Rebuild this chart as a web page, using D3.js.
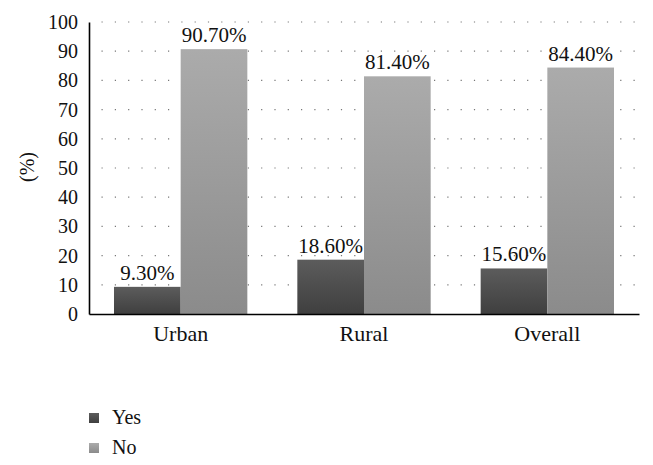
<!DOCTYPE html>
<html><head><meta charset="utf-8">
<script src="https://cdn.jsdelivr.net/npm/d3@7"></script>
<style>body{margin:0;background:#fff}svg{display:block}text{font-family:"Liberation Serif","Times New Roman",serif;fill:#111}</style>
</head><body><svg id="c" width="653" height="465"></svg>
<script>
const categories = ["Urban", "Rural", "Overall"];
const seriesNames = ["Yes", "No"];
const yesValues = [9.3, 18.6, 15.6];
const noValues = [90.7, 81.4, 84.4];
const yTicks = [0, 10, 20, 30, 40, 50, 60, 70, 80, 90, 100];
const yTitle = "(%)";

const svg = d3.select("#c");
const m = {l: 89, r: 639, t: 22, b: 314};
const x = d3.scaleBand().domain(categories).range([m.l, m.r]).paddingInner(0.2727).paddingOuter(0.13635);
const xs = d3.scaleBand().domain(seriesNames).range([0, x.bandwidth()]);
const y = d3.scaleLinear().domain([0, 100]).range([m.b, m.t]);

const defs = svg.append("defs");
function grad(id, c1, c2) {
  const g = defs.append("linearGradient").attr("id", id).attr("x1", 0).attr("y1", 0).attr("x2", 0).attr("y2", 1);
  g.append("stop").attr("offset", "0%").attr("stop-color", c1);
  g.append("stop").attr("offset", "100%").attr("stop-color", c2);
}
grad("gYes", "#5c5c5c", "#3f3f3f");
grad("gNo", "#ababab", "#8b8b8b");
const fills = {Yes: "url(#gYes)", No: "url(#gNo)"};

// gridlines
svg.append("g").selectAll("line").data(yTicks.filter(d => d > 0)).join("line")
  .attr("x1", m.l + 0.5).attr("x2", m.r)
  .attr("y1", d => y(d)).attr("y2", d => y(d))
  .attr("stroke", "#777").attr("stroke-width", 1.2)
  .attr("stroke-dasharray", "1.2,12.1").attr("stroke-dashoffset", -12);

const rows = categories.map((c, i) => ({cat: c, Yes: yesValues[i], No: noValues[i]}));
const g = svg.append("g");
rows.forEach(r => {
  seriesNames.forEach(s => {
    const bx = x(r.cat) + xs(s);
    g.append("rect").attr("x", bx).attr("y", y(r[s])).attr("width", xs.bandwidth())
      .attr("height", y(0) - y(r[s])).attr("fill", fills[s]);
    g.append("text").attr("x", bx + xs.bandwidth() / 2).attr("y", y(r[s]) - 7)
      .attr("text-anchor", "middle").attr("font-size", 21).text(r[s].toFixed(2) + "%");
  });
});

// y axis
const ya = svg.append("g").attr("transform", `translate(${m.l},0)`)
  .call(d3.axisLeft(y).tickValues(yTicks).tickSize(0).tickPadding(11));
ya.select(".domain").attr("stroke", "#000").attr("stroke-width", 1.6);
ya.selectAll("text").attr("font-size", 20).attr("fill", "#111");

// x axis
const xa = svg.append("g").attr("transform", `translate(0,${m.b})`)
  .call(d3.axisBottom(x).tickSize(0).tickPadding(11));
xa.select(".domain").attr("stroke", "#000").attr("stroke-width", 1.6);
xa.selectAll("text").attr("font-size", 22).attr("fill", "#111");

svg.append("text").attr("transform", "translate(34,167) rotate(-90)")
  .attr("text-anchor", "middle").attr("font-size", 20).text(yTitle);

// legend
const lg = svg.append("g");
seriesNames.forEach((s, i) => {
  const ly = 413 + i * 30;
  lg.append("rect").attr("x", 89).attr("y", ly).attr("width", 10).attr("height", 10).attr("fill", fills[s]);
  lg.append("text").attr("x", 112).attr("y", ly + 11).attr("font-size", 20).text(s);
});
</script></body></html>
